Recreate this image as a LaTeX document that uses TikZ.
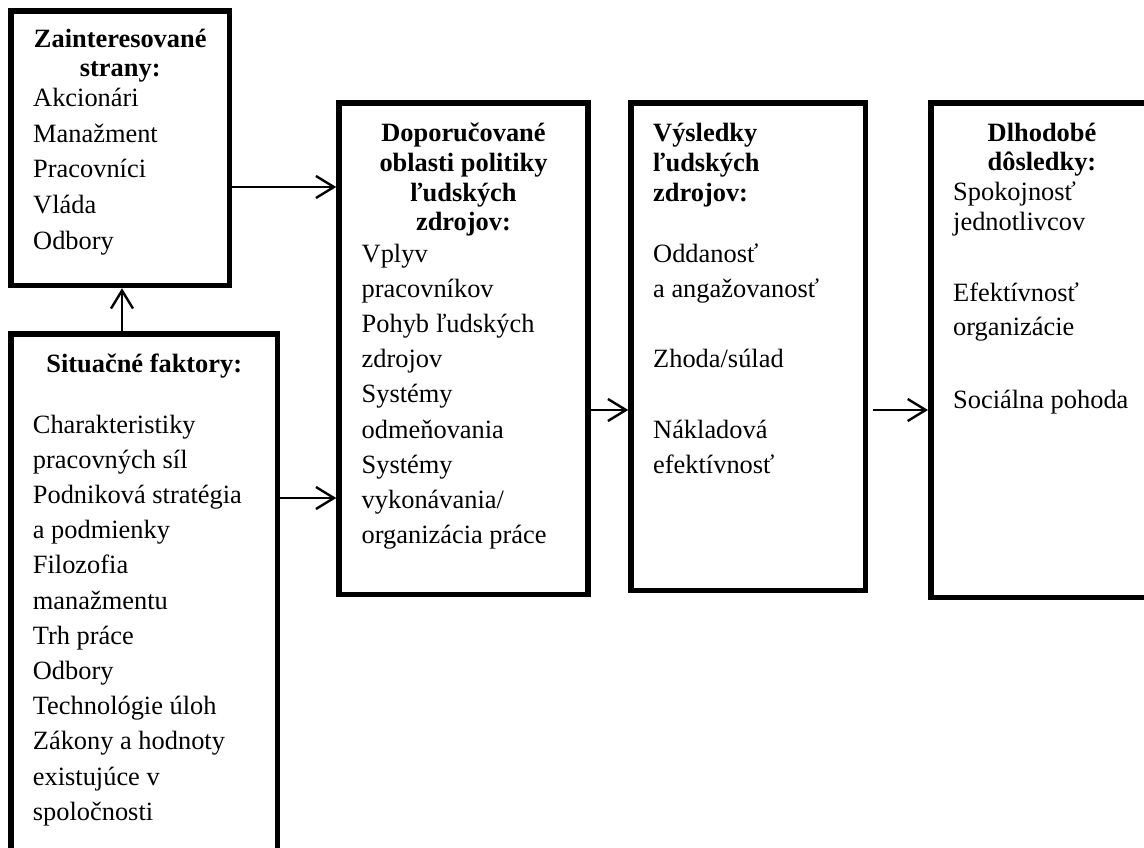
\documentclass[tikz,border=0pt]{standalone}
\usepackage{fontspec}
\setmainfont{Liberation Serif}
\usetikzlibrary{arrows.meta}
\begin{document}
\begin{tikzpicture}[x=1pt,y=-1pt,
  box/.style={draw, line width=5.5pt, rectangle, inner sep=0pt, anchor=north west},
  head/.style={font=\fontsize{26.4}{30}\selectfont\bfseries, inner sep=0pt, anchor=base},
  headl/.style={head, anchor=base west},
  item/.style={font=\fontsize{26.4}{30}\selectfont, inner sep=0pt, anchor=base west},
  arr/.style={line width=2.4pt, -{Straight Barb[length=18pt,width=22pt]}}]
\useasboundingbox (0,0) rectangle (1144,848);

% frames (positioned by their outer corners)
\node[box, minimum width=218.5pt, minimum height=274.5pt] (stakeholders) at (8.25,8.25) {};
\node[box, minimum width=266.5pt, minimum height=563pt] (situational) at (8.25,331.25) {};
\node[box, minimum width=249pt, minimum height=491.25pt] (policy) at (336.25,100.25) {};
\node[box, minimum width=234.25pt, minimum height=487.25pt] (outcomes) at (628.25,100.25) {};
\node[box, minimum width=246.5pt, minimum height=494.25pt] (consequences) at (928,100.25) {};

% stakeholders
\node[head] (stk-h1) at (120.25,48) {Zainteresované};
\node[head] (stk-h2) at (120.25,77) {strany:};
\foreach \t [count=\i from 0] in {Akcionári,Manažment,Pracovníci,Vláda,Odbory}
  \node[item] (stk-\i) at (33,{107+35.5*\i}) {\t};

% situational factors
\node[head] (sit-h) at (144.25,372) {Situačné faktory:};
\foreach \t [count=\i from 0] in {Charakteristiky,pracovných síl,Podniková stratégia,a podmienky,
    Filozofia,manažmentu,Trh práce,Odbory,Technológie úloh,Zákony a hodnoty,existujúce v,spoločnosti}
  \node[item] (sit-\i) at (32.7,{433+35.2*\i}) {\t};

% HR policy choices
\node[head] (pol-h1) at (463.5,142) {Doporučované};
\node[head] (pol-h2) at (463.5,171.5) {oblasti politiky};
\node[head] (pol-h3) at (463.5,201) {ľudských};
\node[head] (pol-h4) at (463.5,230.5) {zdrojov:};
\foreach \t [count=\i from 0] in {Vplyv,pracovníkov,Pohyb ľudských,zdrojov,Systémy,
    odmeňovania,Systémy,vykonávania/,organizácia práce}
  \node[item] (pol-\i) at (361.5,{262+35.2*\i}) {\t};

% HR outcomes
\node[headl] (out-h1) at (653,142) {Výsledky};
\node[headl] (out-h2) at (653,171.5) {ľudských};
\node[headl] (out-h3) at (653,201) {zdrojov:};
\node[item] (out-1) at (653,262) {Oddanosť};
\node[item] (out-2) at (653,297.2) {a angažovanosť};
\node[item] (out-3) at (653,367.6) {Zhoda/súlad};
\node[item] (out-4) at (653,438) {Nákladová};
\node[item] (out-5) at (653,473.2) {efektívnosť};

% long-term consequences
\node[head] (con-h1) at (1042,142) {Dlhodobé};
\node[head] (con-h2) at (1042,171) {dôsledky:};
\node[item] (con-1) at (953,200.5) {Spokojnosť};
\node[item] (con-2) at (953,230) {jednotlivcov};
\node[item] (con-3) at (953,301) {Efektívnosť};
\node[item] (con-4) at (953,335) {organizácie};
\node[item] (con-5) at (953,408) {Sociálna pohoda};

% connectors
\draw[arr] (situational.north -| 122,0) -- (stakeholders.south -| 122,0);
\draw[arr] (stakeholders.east |- 0,187) -- (policy.west |- 0,187);
\draw[arr] (situational.east |- 0,498) -- (policy.west |- 0,498);
\draw[arr] (policy.east |- 0,410) -- (outcomes.west |- 0,410);
\draw[arr, shorten <=5pt] (outcomes.east |- 0,410) -- (consequences.west |- 0,410);
\end{tikzpicture}
\end{document}
